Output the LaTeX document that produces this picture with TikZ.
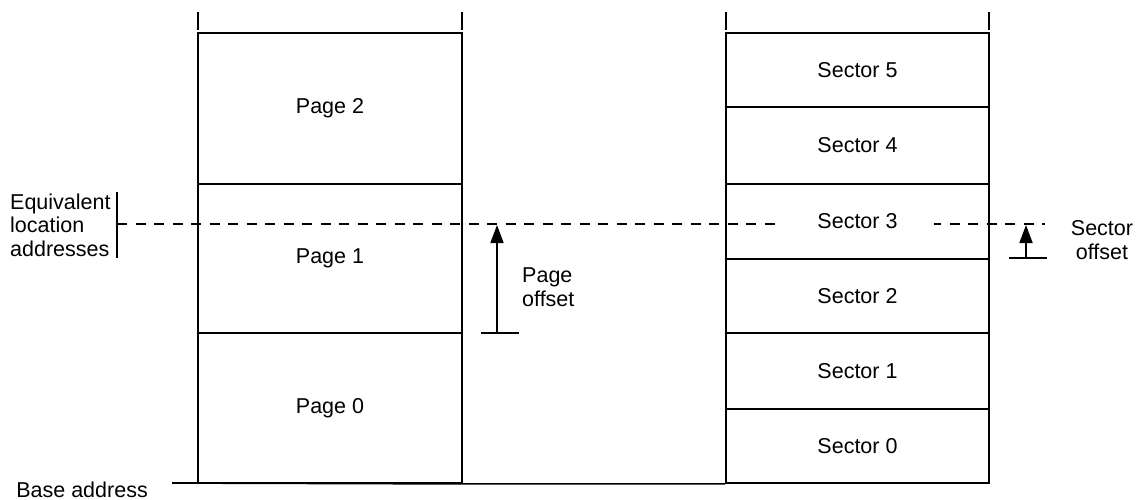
\documentclass[tikz,border=0pt]{standalone}
\usepackage{fontspec}
\setmainfont{Liberation Sans}
\usetikzlibrary{arrows.meta}
\begin{document}
\begin{tikzpicture}[x=1pt,y=-1pt,
  every node/.style={font=\fontsize{21.5}{23.5}\selectfont},
  ln/.style={line width=1.7pt},
  pagebox/.style={draw,line width=1.7pt,minimum width=264pt,inner sep=0pt},
  secbox/.style={draw,line width=1.7pt,minimum width=263pt,inner sep=0pt},
  refline/.style={line width=1.7pt,dash pattern=on 10pt off 8.5pt},
  offarrow/.style={line width=1.7pt,-{Triangle[width=13pt,length=18pt]}}]
\useasboundingbox (0,0) rectangle (1140,500);
% page column
\node[pagebox,minimum height=151pt] (p2) at (330,108.5) {Page 2};
\node[pagebox,minimum height=149pt] (p1) at (330,258.5) {Page 1};
\node[pagebox,minimum height=150pt] (p0) at (330,408) {Page 0};
% sector column
\node[secbox,minimum height=74pt] (s5) at (857.5,70) {Sector 5};
\node[secbox,minimum height=77pt] (s4) at (857.5,145.5) {Sector 4};
\node[secbox,minimum height=75pt,inner ysep=0pt] (s3box) at (857.5,221.5) {};
\node[secbox,minimum height=74pt] (s2) at (857.5,296) {Sector 2};
\node[secbox,minimum height=76pt] (s1) at (857.5,371) {Sector 1};
\node[secbox,minimum height=74pt] (s0) at (857.5,446) {Sector 0};
% top ticks
\draw[ln] (198,12) -- (198,30);
\draw[ln] (462,12) -- (462,30);
\draw[ln] (726,12) -- (726,30);
\draw[ln] (989,12) -- (989,30);
% base line
\coordinate (bl) at (172,483);
\draw[ln] (bl) -- (p0.south east) -- (s0.south west);
\node[anchor=east,inner sep=0pt] (base) at (148,490) {Base address};
% equivalent location bracket
\node[anchor=west,align=left,inner sep=0pt] (eq) at (10,225) {Equivalent\\location\\addresses};
\coordinate (bt) at (117,192);
\coordinate (bb) at (117,258);
\coordinate (bm) at (117,224);
\coordinate (be) at (1045,224);
\draw[ln] (bt) -- (bb);
\draw[refline] (bm) -- (be);
\node[fill=white,inner xsep=36pt,inner ysep=4pt] (s3) at (857.5,221) {Sector 3};
% page offset
\coordinate (pot) at (497,225);
\coordinate (pob) at (497,333);
\coordinate (pol) at (481,333);
\coordinate (por) at (519,333);
\draw[ln] (pol) -- (por);
\draw[offarrow] (pob) -- (pot);
\node[anchor=west,align=left,inner sep=0pt] (po) at (522,287) {Page\\offset};
% sector offset
\coordinate (sot) at (1026,225);
\coordinate (sob) at (1026,258);
\coordinate (sol) at (1009,258);
\coordinate (sor) at (1047,258);
\draw[ln] (sol) -- (sor);
\draw[offarrow] (sob) -- (sot);
\node[align=center,inner sep=0pt] (so) at (1102,240) {Sector\\offset};
\end{tikzpicture}
\end{document}
